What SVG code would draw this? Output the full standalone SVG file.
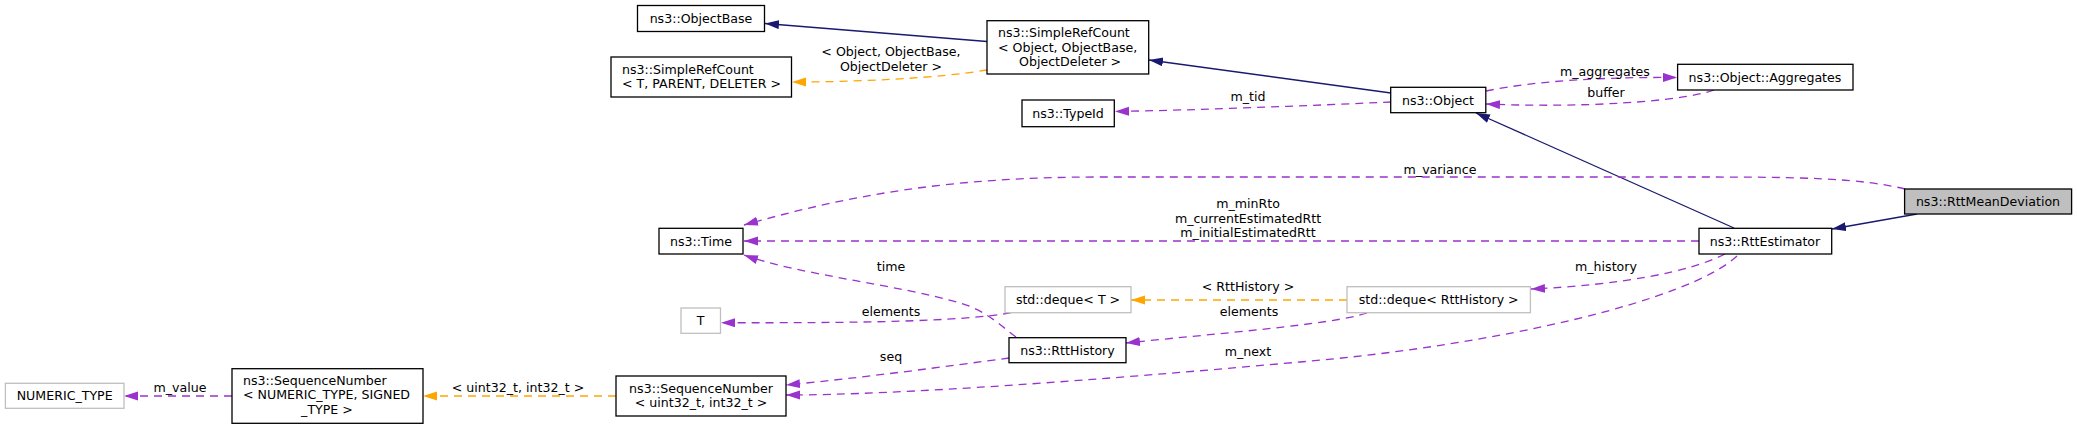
<svg xmlns="http://www.w3.org/2000/svg" width="2077" height="429" viewBox="0 0 2077 429">
<style>
text{font-family:"DejaVu Sans","Liberation Sans",sans-serif;font-size:12.6px;fill:#000}
.m{text-anchor:middle}
.box{fill:#fff;stroke:#000;stroke-width:1.3}
.gbox{fill:#fff;stroke:#bfbfbf;stroke-width:1.3}
.sel{fill:#bfbfbf;stroke:#000;stroke-width:1.3}
.inh{fill:none;stroke:#191970;stroke-width:1.3;marker-end:url(#ab)}
.mem{fill:none;stroke:#9a32cd;stroke-width:1.3;stroke-dasharray:8,6;marker-end:url(#ap)}
.tpl{fill:none;stroke:#ffa500;stroke-width:1.3;stroke-dasharray:8,6;marker-end:url(#ao)}
</style>
<defs>
<marker id="ab" markerUnits="userSpaceOnUse" markerWidth="16" markerHeight="11" refX="14" refY="4.5" orient="auto"><path d="M0,0 L14,4.5 L0,9 z" fill="#191970"/></marker>
<marker id="ap" markerUnits="userSpaceOnUse" markerWidth="16" markerHeight="11" refX="14" refY="4.5" orient="auto"><path d="M0,0 L14,4.5 L0,9 z" fill="#9a32cd"/></marker>
<marker id="ao" markerUnits="userSpaceOnUse" markerWidth="16" markerHeight="11" refX="14" refY="4.5" orient="auto"><path d="M0,0 L14,4.5 L0,9 z" fill="#ffa500"/></marker>
</defs>
<rect width="2077" height="429" fill="#fff"/>
<g id="connectors">
<path class="inh" d="M987,41.5 L765,23.5"/>
<path class="inh" d="M1391,93 L1149,60"/>
<path class="tpl" d="M987,70 C940,78 860,82 792,82"/>
<text class="m" x="891" y="56">&lt; Object, ObjectBase,</text>
<text class="m" x="891" y="71">ObjectDeleter &gt;</text>
<path class="mem" d="M1391,102 C1300,106 1200,110 1115,111.5"/>
<text class="m" x="1248" y="100.5">m_tid</text>
<path class="mem" d="M1486,91 C1540,80 1610,77 1677,77.5"/>
<text class="m" x="1605" y="76">m_aggregates</text>
<path class="mem" d="M1714,90 C1680,102 1580,108 1486,104"/>
<text class="m" x="1606" y="97">buffer</text>
<path class="inh" d="M1734,228 L1476,113"/>
<path class="inh" d="M1917,214 L1832,229"/>
<path class="mem" d="M1905,189 C1860,178 1800,177 1700,177 L1100,177 C950,177 850,195 744,225"/>
<text class="m" x="1440" y="173.5">m_variance</text>
<path class="mem" d="M1699,241 L744,241"/>
<text class="m" x="1248" y="208">m_minRto</text>
<text class="m" x="1248" y="223">m_currentEstimatedRtt</text>
<text class="m" x="1248" y="237">m_initialEstimatedRtt</text>
<path class="mem" d="M1016,337 C1000,325 985,310 960,303 C900,285 800,275 744,255"/>
<text class="m" x="891" y="271">time</text>
<path class="mem" d="M1011,312.7 C960,322 850,323 721,322.7"/>
<text class="m" x="891" y="316">elements</text>
<path class="tpl" d="M1347,300 L1131,300"/>
<text class="m" x="1248" y="291">&lt; RttHistory &gt;</text>
<path class="mem" d="M1367,313 C1330,325 1220,333 1126,343"/>
<text class="m" x="1249" y="316">elements</text>
<path class="mem" d="M1725,254 C1690,272 1620,285 1531,289"/>
<text class="m" x="1606" y="271">m_history</text>
<path class="mem" d="M1009,358 C950,366 860,378 786,385"/>
<text class="m" x="891" y="360.5">seq</text>
<path class="mem" d="M1737,256 C1690,300 1500,345 1300,362 C1100,380 900,395 786,395"/>
<text class="m" x="1248" y="356">m_next</text>
<path class="tpl" d="M616,396 L423,396"/>
<text class="m" x="518" y="392">&lt; uint32_t, int32_t &gt;</text>
<path class="mem" d="M232,396 L124,396"/>
<text class="m" x="180" y="392">m_value</text>
</g>
<g id="node-ObjectBase"><rect class="box" x="637.5" y="5.5" width="127" height="26"/><text class="m" x="701" y="23">ns3::ObjectBase</text></g>
<g id="node-SimpleRefCountObject"><rect class="box" x="987" y="20.7" width="161.7" height="53.3"/><text x="998" y="37.2">ns3::SimpleRefCount</text><text x="998" y="51.5">&lt; Object, ObjectBase,</text><text x="1019" y="66">ObjectDeleter &gt;</text></g>
<g id="node-SimpleRefCountT"><rect class="box" x="611" y="57" width="180.5" height="40"/><text x="622" y="73.5">ns3::SimpleRefCount</text><text x="622" y="88">&lt; T, PARENT, DELETER &gt;</text></g>
<g id="node-TypeId"><rect class="box" x="1022" y="100" width="92.3" height="26.7"/><text class="m" x="1068" y="118">ns3::TypeId</text></g>
<g id="node-Object"><rect class="box" x="1390.7" y="87.3" width="95.1" height="25.4"/><text class="m" x="1438" y="104.5">ns3::Object</text></g>
<g id="node-Aggregates"><rect class="box" x="1677.6" y="64.3" width="175.4" height="25.7"/><text class="m" x="1765" y="81.5">ns3::Object::Aggregates</text></g>
<g id="node-RttMeanDeviation"><rect class="sel" x="1904.6" y="189" width="167" height="25"/><text class="m" x="1988" y="206">ns3::RttMeanDeviation</text></g>
<g id="node-RttEstimator"><rect class="box" x="1699" y="228.3" width="132.7" height="25.7"/><text class="m" x="1765" y="245.5">ns3::RttEstimator</text></g>
<g id="node-Time"><rect class="box" x="659" y="228.3" width="84" height="25.7"/><text class="m" x="701" y="245.5">ns3::Time</text></g>
<g id="node-dequeT"><rect class="gbox" x="1005" y="286.7" width="126" height="26"/><text class="m" x="1068" y="304">std::deque&lt; T &gt;</text></g>
<g id="node-dequeRttHistory"><rect class="gbox" x="1347" y="286.7" width="183.4" height="26"/><text class="m" x="1438.7" y="304">std::deque&lt; RttHistory &gt;</text></g>
<g id="node-T"><rect class="gbox" x="681" y="308" width="39.5" height="25.3"/><text class="m" x="700.7" y="325">T</text></g>
<g id="node-RttHistory"><rect class="box" x="1009" y="337.7" width="117" height="25"/><text class="m" x="1067.5" y="354.5">ns3::RttHistory</text></g>
<g id="node-SequenceNumberUint"><rect class="box" x="616" y="376" width="170" height="40"/><text class="m" x="701" y="392.8">ns3::SequenceNumber</text><text class="m" x="701" y="407.2">&lt; uint32_t, int32_t &gt;</text></g>
<g id="node-SequenceNumberNumeric"><rect class="box" x="232" y="368.7" width="191" height="54.6"/><text x="243" y="384.5">ns3::SequenceNumber</text><text x="243" y="399">&lt; NUMERIC_TYPE, SIGNED</text><text class="m" x="327" y="413.5">_TYPE &gt;</text></g>
<g id="node-NUMERIC_TYPE"><rect class="gbox" x="5.4" y="383.3" width="118.6" height="25"/><text class="m" x="64.7" y="400">NUMERIC_TYPE</text></g>
</svg>
